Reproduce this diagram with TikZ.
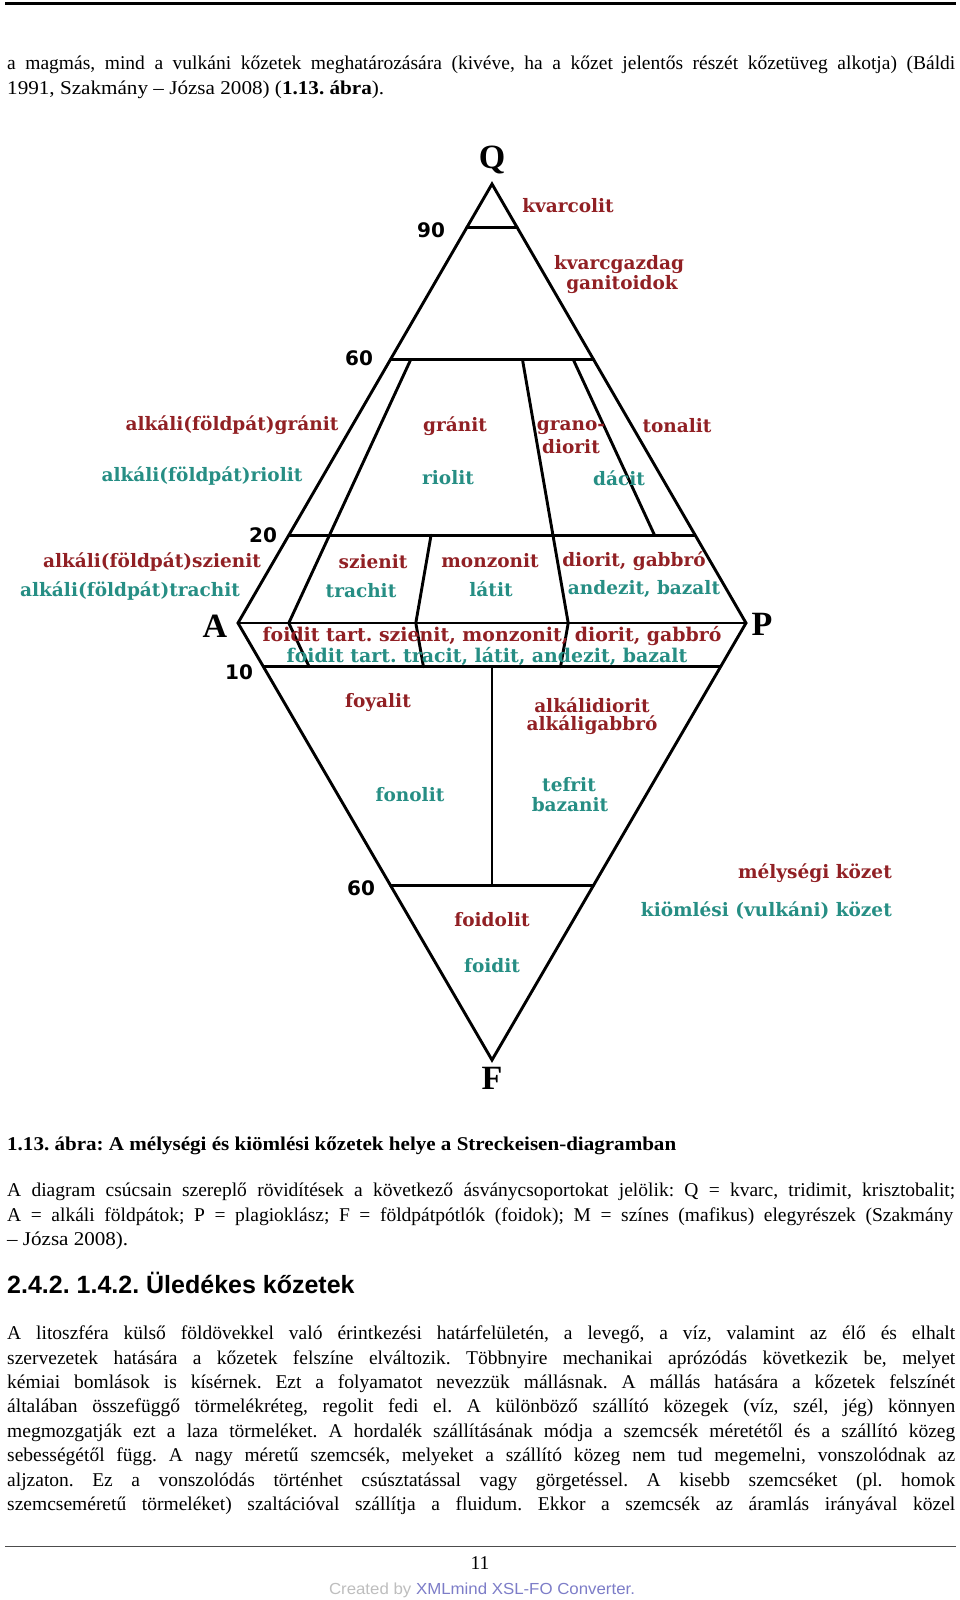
\documentclass[tikz,border=0pt]{standalone}
\usepackage{fontspec}
\usepackage{graphicx}
\setmainfont{Liberation Serif}
\newfontfamily\lblfont{DejaVu Serif}
\newfontfamily\numfont{DejaVu Sans}
\newfontfamily\headfont{Liberation Sans}
\usetikzlibrary{calc}
\frenchspacing
\definecolor{myred}{RGB}{145,32,36}
\definecolor{myteal}{RGB}{38,142,132}
\definecolor{ftgray}{RGB}{190,190,190}
\definecolor{ftblue}{RGB}{125,125,200}
\newlength\fitlen
\newcommand\jline[2]{\settowidth\fitlen{#2}\ifdim\fitlen>#1pt\relax\pgfmathsetmacro\fitsc{#1/\fitlen}\scalebox{\fitsc}[1]{#2}\else\hbox to #1pt{\spaceskip=.25em plus 1fil\relax\xspaceskip=\spaceskip#2}\fi}
\newcommand\fitw[2]{\settowidth\fitlen{#2}\pgfmathsetmacro\fitsc{#1/\fitlen}\scalebox{\fitsc}[1]{#2}}
\tikzset{
  body/.style={anchor=base west, inner sep=0pt, font=\fontsize{19.5}{24}\selectfont\frenchspacing},
  lbl/.style={inner sep=0pt, font={\lblfont\bfseries\fontsize{18.5}{20}\selectfont}},
  rl/.style={lbl, text=myred},
  tl/.style={lbl, text=myteal},
  num/.style={inner sep=0pt, font={\numfont\bfseries\fontsize{20}{22}\selectfont}},
  vtx/.style={inner sep=0pt, font={\bfseries\fontsize{34}{36}\selectfont}},
  dline/.style={line width=2.9pt, line join=miter, line cap=round},
}
\begin{document}
\begin{tikzpicture}[x=1pt,y=-1pt]
\fill[white] (0,0) rectangle (960,1600);
\useasboundingbox (0,0) rectangle (960,1600);
% rules
\coordinate (r1a) at (5,3.3); \coordinate (r1b) at (956,3.3);
\draw[line width=2.5pt] (r1a) -- (r1b);
\coordinate (r2a) at (5,1546.5); \coordinate (r2b) at (956,1546.5);
\draw[line width=1.4pt, black!70] (r2a) -- (r2b);
% top paragraph
\node[body] (p1a) at (7,70) {\jline{948}{a magmás, mind a vulkáni kőzetek meghatározására (kivéve, ha a kőzet jelentős részét kőzetüveg alkotja) (Báldi}};
\node[body] (p1b) at (7,94.4) {\fitw{377}{1991, Szakmány – Józsa 2008) (\textbf{1.13. ábra}).}};
% diagram geometry
\coordinate (Q) at (492,184);
\coordinate (A) at (238,623);
\coordinate (P) at (746,623);
\coordinate (F) at (492,1060);
\coordinate (B10) at ($(A)!0.10!(P)$);
\coordinate (B35) at ($(A)!0.35!(P)$);
\coordinate (B50) at ($(A)!0.50!(P)$);
\coordinate (B65) at ($(A)!0.65!(P)$);
\coordinate (B90) at ($(A)!0.90!(P)$);
\draw[dline] (Q) -- (P) -- (F) -- (A) -- cycle;
\draw[dline] (A) -- (P);
\draw[dline] ($(A)!0.9!(Q)$) -- ($(P)!0.9!(Q)$);
\draw[dline] ($(A)!0.6!(Q)$) -- ($(P)!0.6!(Q)$);
\draw[dline] ($(A)!0.2!(Q)$) -- ($(P)!0.2!(Q)$);
\draw[dline] ($(A)!0.1!(F)$) -- ($(P)!0.1!(F)$);
\draw[dline] ($(A)!0.6!(F)$) -- ($(P)!0.6!(F)$);
\draw[dline] ($(B10)!0.6!(Q)$) -- (B10) -- ($(B10)!0.1!(F)$);
\draw[dline] ($(B35)!0.2!(Q)$) -- (B35) -- ($(B35)!0.1!(F)$);
\draw[dline] ($(B65)!0.6!(Q)$) -- (B65) -- ($(B65)!0.1!(F)$);
\draw[dline] ($(B90)!0.6!(Q)$) -- ($(B90)!0.2!(Q)$);
\draw[dline] ($(B50)!0.1!(F)$) -- ($(B50)!0.6!(F)$);
% vertex letters and numbers
\node[vtx] (lQ) at (492,160) {Q};
\node[vtx] (lA) at (215,626) {A};
\node[vtx] (lP) at (762,624) {P};
\node[vtx] (lF) at (492,1078) {F};
\node[num] (n90) at (431,230) {90};
\node[num] (n60a) at (359,358) {60};
\node[num] (n20) at (263,535) {20};
\node[num] (n10) at (239,672) {10};
\node[num] (n60b) at (361,888) {60};
% labels
\node[rl] (kvo) at (568,206) {kvarcolit};
\node[rl] (kvg1) at (619,265) {kvarcgazdag};
\node[rl] (kvg2) at (622,285) {ganitoidok};
\node[rl] (afgr) at (232,425) {alkáli(földpát)gránit};
\node[tl] (afri) at (202,476) {alkáli(földpát)riolit};
\node[rl] (gra) at (455,426) {gránit};
\node[tl] (rio) at (448,478) {riolit};
\node[rl] (grd1) at (571,428) {grano-};
\node[rl] (grd2) at (571,447) {diorit};
\node[rl] (ton) at (677,426) {tonalit};
\node[tl] (dac) at (619,478) {dácit};
\node[rl] (afsz) at (152,562) {alkáli(földpát)szienit};
\node[tl] (aftr) at (130,591) {alkáli(földpát)trachit};
\node[rl] (szi) at (373,562) {szienit};
\node[tl] (tra) at (361,591) {trachit};
\node[rl] (mon) at (490,561) {monzonit};
\node[tl] (lat) at (491,589) {látit};
\node[rl] (dio) at (634,561) {diorit, gabbró};
\node[tl] (and) at (644,589) {andezit, bazalt};
\node[rl, font={\lblfont\bfseries\fontsize{18.9}{20}\selectfont}] (ft1) at (492,636) {foidit tart. szienit, monzonit, diorit, gabbró};
\node[tl, font={\lblfont\bfseries\fontsize{18.9}{20}\selectfont}] (ft2) at (487,656) {foidit tart. tracit, látit, andezit, bazalt};
\node[rl] (foy) at (378,703) {foyalit};
\node[rl] (akd) at (592,705) {alkálidiorit};
\node[rl] (akg) at (592,725) {alkáligabbró};
\node[tl] (fon) at (410,795) {fonolit};
\node[tl] (tef) at (569,785) {tefrit};
\node[tl] (baz) at (570,805) {bazanit};
\node[rl, anchor=east] (mely) at (892,873) {mélységi közet};
\node[tl, anchor=east] (kiom) at (892,911) {kiömlési (vulkáni) közet};
\node[rl] (fdl) at (492,920) {foidolit};
\node[tl] (fdt) at (492,966) {foidit};
% caption and text
\node[body] (cap) at (7,1150.5) {\fitw{669}{\bfseries 1.13. ábra: A mélységi és kiömlési kőzetek helye a Streckeisen-diagramban}};
\node[body] (p2a) at (7,1196.5) {\jline{948}{A diagram csúcsain szereplő rövidítések a következő ásványcsoportokat jelölik: Q = kvarc, tridimit, krisztobalit;}};
\node[body] (p2b) at (7,1221) {\jline{946}{A = alkáli földpátok; P = plagioklász; F = földpátpótlók (foidok); M = színes (mafikus) elegyrészek (Szakmány}};
\node[body] (p2c) at (7,1245.4) {\fitw{121}{– Józsa 2008).}};
\node[anchor=base west, inner sep=0pt, font={\headfont\bfseries\fontsize{25}{28}\selectfont}] (head) at (7,1293.5) {2.4.2. 1.4.2. Üledékes kőzetek};
\node[body] (p3a) at (7,1339.6) {\jline{948}{A litoszféra külső földövekkel való érintkezési határfelületén, a levegő, a víz, valamint az élő és elhalt}};
\node[body] (p3b) at (7,1364.0) {\jline{948}{szervezetek hatására a kőzetek felszíne elváltozik. Többnyire mechanikai aprózódás következik be, melyet}};
\node[body] (p3c) at (7,1388.4) {\jline{948}{kémiai bomlások is kísérnek. Ezt a folyamatot nevezzük mállásnak. A mállás hatására a kőzetek felszínét}};
\node[body] (p3d) at (7,1412.8) {\jline{948}{általában összefüggő törmelékréteg, regolit fedi el. A különböző szállító közegek (víz, szél, jég) könnyen}};
\node[body] (p3e) at (7,1437.2) {\jline{948}{megmozgatják ezt a laza törmeléket. A hordalék szállításának módja a szemcsék méretétől és a szállító közeg}};
\node[body] (p3f) at (7,1461.6) {\jline{948}{sebességétől függ. A nagy méretű szemcsék, melyeket a szállító közeg nem tud megemelni, vonszolódnak az}};
\node[body] (p3g) at (7,1486.0) {\jline{948}{aljzaton. Ez a vonszolódás történhet csúsztatással vagy görgetéssel. A kisebb szemcséket (pl. homok}};
\node[body] (p3h) at (7,1510.4) {\jline{948}{szemcseméretű törmeléket) szaltációval szállítja a fluidum. Ekkor a szemcsék az áramlás irányával közel}};
% footer
\node[body, anchor=base] (pg) at (480,1569.5) {11};
\node[anchor=base, inner sep=0pt, font={\headfont\fontsize{16}{18}\selectfont}] (xml) at (482,1594.5) {\fitw{306}{\textcolor{ftgray}{Created by }\textcolor{ftblue}{XMLmind XSL-FO Converter.}}};
\end{tikzpicture}
\end{document}
